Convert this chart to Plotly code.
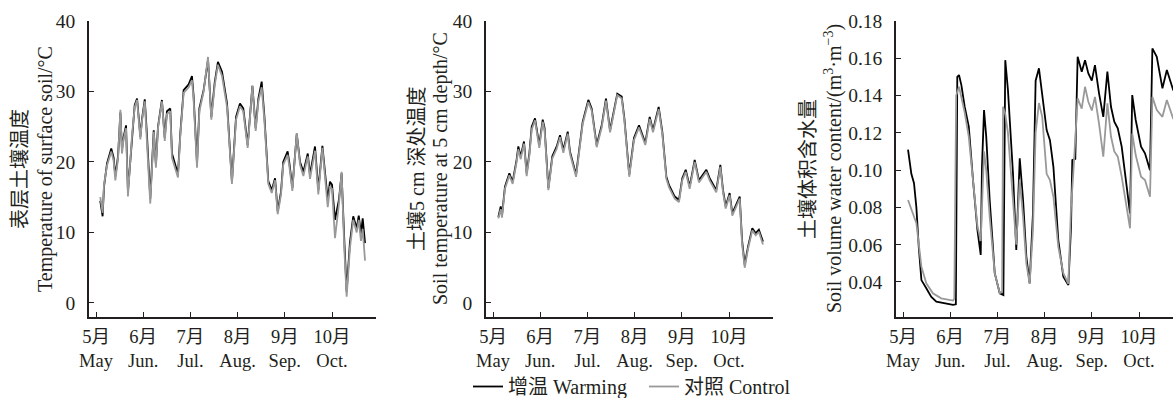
import plotly.graph_objects as go

# ---------------- data (day index from 1 May; ticks every 30 days) ----------------
month_ticks = [0, 30, 60, 90, 120, 150]
month_labels = ["5月<br>May", "6月<br>Jun.", "7月<br>Jul.", "8月<br>Aug.", "9月<br>Sep.", "10月<br>Oct."]

# Panel 1: surface soil temperature (°C)
day_surface = [2.7, 4.2, 5.1, 7, 9.7, 11.2, 12.3, 14, 15.5, 16.5, 17.6, 19.1, 20.3, 22.9, 24.6, 26.1, 28.2, 29.2,
               31, 32.4, 34.5, 36.7, 38.1, 39.4, 41.9, 43.7, 45.1, 47.2, 48.3, 52.1, 53.6, 55.7, 58.9, 61, 62, 64.2,
               65.7, 68.4, 71.2, 73.3, 75.4, 77.5, 80.1, 83.3, 86.4, 89, 91.5, 93.6, 96.4, 99.4, 101.5, 103.2, 105.3,
               107, 109.5, 111.7, 113.8, 115.5, 117.6, 119, 121.8, 123, 124.8, 127.6, 129.7, 131.8, 134.6, 136, 139.2,
               141.3, 143.9, 147.3, 148.7, 150, 151.9, 154.4, 156.1, 157.8, 159.3, 161.4, 163.5, 165.7, 167, 168.4,
               169.5, 171]
surface_warming = [14.5, 12.3, 16.5, 19.8, 21.9, 20.6, 18.0, 20.8, 27.0, 21.8, 23.6, 25.2, 15.8, 24.1, 28.1, 29.0,
                   23.6, 26.0, 28.9, 23.8, 14.8, 24.5, 19.6, 25.0, 28.8, 23.4, 27.2, 27.6, 21.2, 18.3, 24.1, 30.2,
                   31.0, 32.2, 29.5, 19.8, 27.6, 30.2, 34.5, 26.4, 31.2, 34.2, 32.8, 28.3, 17.2, 26.4, 28.3, 27.6,
                   22.4, 30.8, 24.8, 29.0, 31.4, 26.6, 17.3, 16.0, 17.7, 13.0, 15.8, 20.0, 21.5, 19.7, 16.3, 24.0,
                   20.0, 18.6, 21.2, 18.2, 22.2, 16.0, 22.3, 14.6, 17.2, 16.8, 11.8, 14.6, 18.4, 9.0, 1.6, 8.6, 12.3,
                   10.6, 12.4, 9.8, 12.0, 8.5]
surface_control = [15.0, 12.8, 16.8, 19.5, 21.5, 20.2, 17.4, 20.5, 27.4, 21.2, 23.3, 24.8, 15.1, 23.8, 27.8, 28.8,
                   23.2, 25.8, 28.6, 23.4, 14.1, 24.3, 19.2, 24.8, 28.6, 23.0, 26.8, 27.2, 20.6, 17.8, 23.8, 29.8,
                   30.6, 31.6, 29.0, 19.2, 27.2, 30.0, 34.9, 26.0, 30.8, 33.8, 32.2, 27.8, 16.9, 26.0, 27.9, 27.2,
                   22.0, 30.8, 24.4, 28.6, 30.6, 26.0, 16.9, 15.6, 17.4, 12.6, 15.4, 19.6, 21.0, 19.2, 15.9, 24.1,
                   19.6, 18.0, 20.8, 17.6, 21.6, 15.4, 22.0, 13.6, 16.4, 16.2, 9.2, 14.0, 18.6, 7.8, 0.9, 7.8, 11.8,
                   10.0, 11.8, 8.8, 10.5, 6.0]

# Panel 2: soil temperature at 5 cm (°C)
day_5cm = [3.4, 4.9, 5.7, 7.6, 10.4, 12.5, 15, 16.1, 17.6, 19.7, 21.4, 23.1, 24.6, 26.7, 29.4, 31.6, 32.8, 35.2, 37.7,
           40.5, 42.6, 44.7, 47.5, 48.9, 52.8, 54.9, 57, 60.6, 62.7, 65.9, 69.1, 71.8, 74.4, 79, 81.8, 83.5, 86.6,
           89.6, 92.8, 96.8, 99.6, 101.7, 103.8, 105.3, 107.6, 110.2, 111.9, 115.5, 118.2, 120.3, 122.5, 125, 128.2,
           130.9, 135.6, 137.7, 141.9, 144.5, 146.2, 147.9, 150.4, 152.1, 156.8, 158.3, 160, 162.1, 164.8, 167, 169,
           171.6]
t5_warming = [12.2, 13.7, 12.4, 16.5, 18.4, 17.2, 20.3, 22.2, 20.8, 22.9, 18.4, 21.2, 25.0, 26.2, 22.4, 26.0, 24.8,
              16.3, 20.8, 22.2, 23.8, 21.7, 24.3, 21.5, 18.2, 22.2, 25.7, 28.8, 27.6, 22.4, 25.2, 29.0, 24.5, 29.7,
              29.3, 26.2, 18.2, 23.4, 25.2, 22.7, 26.4, 24.5, 26.2, 27.8, 24.3, 17.9, 16.7, 15.1, 14.6, 17.7, 18.9,
              16.5, 20.3, 17.4, 18.9, 17.7, 16.0, 19.6, 16.0, 13.7, 15.6, 12.7, 15.1, 8.9, 5.4, 8.0, 10.6, 9.9,
              10.4, 8.7]
t5_control = [12.0, 13.3, 12.1, 16.2, 18.1, 16.9, 20.0, 21.8, 20.4, 22.6, 18.0, 20.9, 24.6, 25.9, 22.0, 25.7, 24.4,
              16.0, 20.5, 21.9, 23.5, 21.3, 24.0, 21.2, 17.9, 21.9, 25.4, 28.5, 27.3, 22.1, 24.9, 28.7, 24.2, 29.5,
              29.0, 25.9, 17.9, 23.1, 24.9, 22.4, 26.1, 24.2, 25.9, 27.5, 24.0, 17.6, 16.4, 14.8, 14.3, 17.4, 18.6,
              16.2, 20.0, 17.1, 18.6, 17.4, 15.7, 19.3, 15.7, 13.4, 15.3, 12.4, 14.8, 8.4, 5.0, 7.7, 10.3, 9.6,
              10.1, 8.3]

# Panel 3: soil volumetric water content (m3 m-3)
day_swc_warming = [3.2, 5.3, 7, 8.5, 10, 11.7, 14.8, 18, 21.2, 26.5, 31.8, 33.6, 34.5, 35.6, 37.1, 39.2, 41.8, 44.5,
                   47.3, 49.4, 50.2, 51.5, 52.9, 55.1, 58.3, 61.5, 63.8, 65, 66.7, 69.9, 72, 74.2, 76.3, 78.4, 80.5,
                   82.6, 84.3, 86.4, 88.5, 91.3, 93.4, 95.6, 98.7, 101.9, 105.1, 106.8, 107.6, 109.5, 111, 113.6,
                   115.7, 117.8, 120, 122, 124.6, 127.3, 129.9, 132.2, 134.3, 136.5, 139, 141.5, 144.3, 145.7, 147.9,
                   151.3, 153.8, 157, 158.5, 161.3, 164.9, 167.7, 171.7, 174]
swc_warming = [0.111, 0.098, 0.093, 0.080, 0.059, 0.041, 0.0366, 0.032, 0.0294, 0.0286, 0.0277, 0.028, 0.150, 0.151,
               0.1456, 0.134, 0.1233, 0.0947, 0.0679, 0.0545, 0.1018, 0.1322, 0.118, 0.084, 0.0447, 0.0339, 0.033,
               0.159, 0.143, 0.0983, 0.0572, 0.1063, 0.084, 0.0536, 0.0393, 0.0768, 0.148, 0.1546, 0.141, 0.1215,
               0.1161, 0.1018, 0.0625, 0.0428, 0.0384, 0.0697, 0.1054, 0.106, 0.1608, 0.1528, 0.159, 0.1519, 0.148,
               0.1563, 0.1412, 0.1286, 0.1528, 0.134, 0.126, 0.1224, 0.1126, 0.0947, 0.0768, 0.1403, 0.1269,
               0.1126, 0.109, 0.100, 0.1653, 0.1608, 0.1439, 0.1537, 0.143, 0.142]
day_swc_control = [3.2, 6.4, 8.5, 11.7, 14.8, 19, 24.3, 31.8, 32.6, 33.8, 35.6, 37.1, 39.2, 41.8, 44.5, 47.3, 49.4,
                   50.2, 51.5, 52.9, 55.1, 58.3, 61.5, 63, 63.6, 65, 66.7, 69.9, 72, 74.2, 76.3, 78.4, 80.5, 82.6,
                   84.3, 86.4, 88.5, 91.3, 93.4, 95.6, 98.7, 101.9, 105.1, 106.8, 108, 111, 113.6, 115.7, 117.8, 120,
                   122, 124.6, 127.3, 129.9, 132.2, 134.3, 136.5, 139, 141.5, 144.3, 145.7, 147.9, 151.3, 153.8, 157,
                   158.5, 161.3, 164.9, 167.7, 171.7, 174]
swc_control = [0.084, 0.0768, 0.0715, 0.0482, 0.0393, 0.0339, 0.0312, 0.030, 0.031, 0.140, 0.1447, 0.139, 0.131,
               0.118, 0.093, 0.070, 0.062, 0.080, 0.110, 0.100, 0.075, 0.0447, 0.034, 0.035, 0.134, 0.130, 0.120,
               0.084, 0.060, 0.095, 0.075, 0.050, 0.039, 0.068, 0.120, 0.136, 0.1286, 0.098, 0.0947, 0.0857, 0.0589,
               0.0447, 0.039, 0.0804, 0.095, 0.1385, 0.133, 0.1447, 0.1367, 0.132, 0.1393, 0.125, 0.1072, 0.1358,
               0.118, 0.110, 0.1072, 0.0965, 0.0822, 0.0688, 0.1197, 0.1081, 0.0965, 0.0947, 0.0857, 0.1393, 0.1322,
               0.1286, 0.1376, 0.1277, 0.127]

temp_ticks = [0, 10, 20, 30, 40]
swc_ticks = [0.04, 0.06, 0.08, 0.10, 0.12, 0.14, 0.16, 0.18]

y_titles_cn = ["表层土壤温度", "土壤5 cm 深处温度", "土壤体积含水量"]
y_titles_en = ["Temperature of surface soil/°C",
               "Soil temperature at 5 cm depth/°C",
               "Soil volume water content/(m<sup>3</sup>·m<sup>−3</sup>)"]
series_names = ["增温 Warming", "对照 Control"]

# ---------------- styling / layout ----------------
W, H = 1173, 398
FONT = "Liberation Serif, 'Times New Roman', 'Noto Sans CJK SC', serif"
INK = "#231f20"
WARM_COLOR = "#000000"
CTRL_COLOR = "#999999"

def px_x(p):
    return p / W

def px_y(p):
    return 1 - p / H

panels = [
    dict(x0=89, x1=376, cn_x=20, en_x=45),
    dict(x0=486, x1=773, cn_x=417, en_x=440),
    dict(x0=896, x1=1173, cn_x=808, en_x=833),
]
y_top, y_bot = 21, 317
px_per_day = 47.2 / 30.0

fig = go.Figure()
data_sets = [
    (day_surface, surface_warming, day_surface, surface_control),
    (day_5cm, t5_warming, day_5cm, t5_control),
    (day_swc_warming, swc_warming, day_swc_control, swc_control),
]
for i, (dw, vw, dc, vc) in enumerate(data_sets):
    ax = "" if i == 0 else str(i + 1)
    fig.add_trace(go.Scatter(x=dw, y=vw, mode="lines", name=series_names[0],
                             line=dict(color=WARM_COLOR, width=1.8),
                             xaxis="x" + ax, yaxis="y" + ax, showlegend=(i == 0)))
for i, (dw, vw, dc, vc) in enumerate(data_sets):
    ax = "" if i == 0 else str(i + 1)
    fig.add_trace(go.Scatter(x=dc, y=vc, mode="lines", name=series_names[1],
                             line=dict(color=CTRL_COLOR, width=1.8),
                             xaxis="x" + ax, yaxis="y" + ax, showlegend=(i == 0)))

layout = dict(
    width=W, height=H, autosize=False,
    margin=dict(l=0, r=0, t=0, b=0, autoexpand=False),
    paper_bgcolor="white", plot_bgcolor="white",
    font=dict(family=FONT, size=19.5, color=INK),
    showlegend=True,
    legend=dict(orientation="h", x=px_x(468), xanchor="left", y=px_y(367), yanchor="top",
                font=dict(size=20, family=FONT, color=INK), bgcolor="rgba(0,0,0,0)",
                entrywidth=131, entrywidthmode="pixels", tracegroupgap=0),
    annotations=[],
)

for i, p in enumerate(panels):
    ax = "" if i == 0 else str(i + 1)
    start_day = -(96 - 89) / px_per_day
    end_day = start_day + (p["x1"] - p["x0"]) / px_per_day
    layout["xaxis" + ax] = dict(
        domain=[px_x(p["x0"]), px_x(p["x1"])], anchor="y" + ax,
        range=[start_day, end_day], tickvals=month_ticks, ticktext=month_labels,
        showline=True, linecolor=INK, linewidth=1.6, ticks="inside", ticklen=5, tickwidth=1.2,
        tickcolor=INK, showgrid=False, zeroline=False, tickfont=dict(size=18.5),
        ticklabelstandoff=2, automargin=False,
    )
    if i < 2:
        yr = [-1.99, 40]
        yt = temp_ticks
        ytext = [str(v) for v in temp_ticks]
    else:
        yr = [0.0212, 0.18]
        yt = swc_ticks
        ytext = ["%.2f" % v for v in swc_ticks]
    layout["yaxis" + ax] = dict(
        domain=[px_y(y_bot), px_y(y_top)], anchor="x" + ax, range=yr,
        tickvals=yt, ticktext=ytext,
        showline=True, linecolor=INK, linewidth=1.6, ticks="inside", ticklen=5, tickwidth=1.2,
        tickcolor=INK, showgrid=False, zeroline=False, tickfont=dict(size=19.5),
        ticklabelstandoff=8, automargin=False,
    )
    for txt, cx in ((y_titles_cn[i], p["cn_x"]), (y_titles_en[i], p["en_x"])):
        layout["annotations"].append(dict(
            text=txt, textangle=-90, xref="paper", yref="paper",
            x=px_x(cx), y=px_y(169), xanchor="center", yanchor="middle",
            showarrow=False, font=dict(size=20, family=FONT, color=INK),
        ))

fig.update_layout(**layout)
fig.write_html("out.html")
